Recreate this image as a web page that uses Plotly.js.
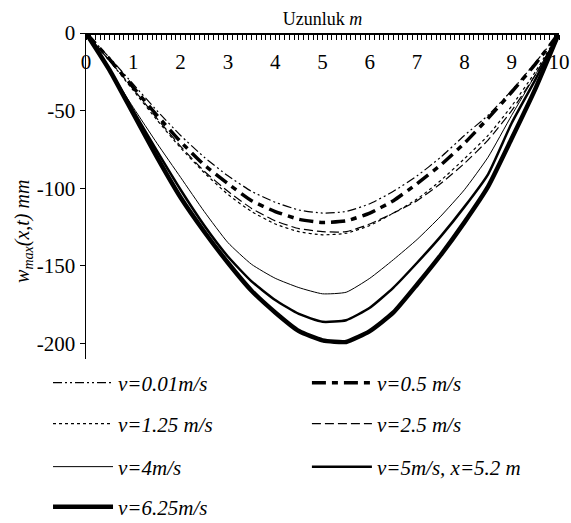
<!DOCTYPE html>
<html>
<head>
<meta charset="utf-8">
<script src="https://cdn.plot.ly/plotly-3.0.1.min.js"></script>
<style>html,body{margin:0;padding:0;background:#fff;}#chart{width:571px;height:523px;}</style>
</head>
<body>
<div id="chart"></div>
<script>
// positions along the beam (m)
var xPos = [0, 0.5, 1, 1.5, 2, 2.5, 3, 3.5, 4, 4.5, 5, 5.5, 6, 6.5, 7, 7.5, 8, 8.5, 9, 9.5, 10];

// maximum deflection w_max (mm) for each speed
var w_v001 = [0, -16, -33, -50, -66, -80, -92, -102, -109, -114, -116, -115, -110, -102, -92, -80, -66, -53, -37, -19, 0];
var w_v05  = [0, -17, -35, -53, -70, -85, -97, -108, -115, -120, -122, -121, -116, -108, -97, -85, -71, -55, -38, -20, 0];
var w_v125 = [0, -18, -37, -56, -74, -90, -104, -115, -123, -128, -130, -129, -124, -116, -107, -95, -81, -66, -47, -25, 0];
var w_v25  = [0, -18, -36, -55, -73, -89, -102, -113, -121, -126, -128, -128, -123, -116, -108, -97, -84, -69, -50, -27, 0];
var w_v4   = [0, -24, -48, -71, -93, -115, -135, -149, -158, -164, -168, -167, -158, -146, -133, -118, -101, -80, -53, -27, 0];
var w_v5   = [0, -24, -50, -76, -101, -124, -144, -160, -172, -181, -186, -185, -177, -164, -148, -131, -112, -91, -58, -30, 0];
var w_v625 = [0, -24, -52, -80, -106, -128, -148, -166, -180, -192, -198, -199, -192, -180, -162, -143, -122, -99, -68, -36, 0];

var seriesNames = ["v=0.01m/s", "v=0.5 m/s", "v=1.25 m/s", "v=2.5 m/s", "v=4m/s", "v=5m/s, x=5.2 m", "v=6.25m/s"];
var xTickVals = [0, 1, 2, 3, 4, 5, 6, 7, 8, 9, 10];
var yTickVals = [-200, -150, -100, -50, 0];
var yTickText = ["-200", "-150", "-100", "-50", "0"];
var yTitleText = "<i>w<sub>max</sub>(x,t) mm</i>";

var seriesData = [w_v001, w_v05, w_v125, w_v25, w_v4, w_v5, w_v625];
var styles = [
  {width: 1.2, dash: "9px,3px,2px,3px,2px,3px"},
  {width: 3.5, dash: "14px,6px,6px,6px"},
  {width: 1.2, dash: "3px,3px"},
  {width: 1.2, dash: "9px,4px"},
  {width: 1, dash: "solid"},
  {width: 2.5, dash: "solid"},
  {width: 4.5, dash: "solid"}
];
var legendIds = ["legend", "legend2", "legend3", "legend4", "legend5", "legend6", "legend7"];

var traces = seriesData.map(function(w, i) {
  return {
    x: xPos, y: w, type: "scatter", mode: "lines",
    name: "<i>" + seriesNames[i] + "</i>",
    line: {color: "#000", width: styles[i].width, dash: styles[i].dash, shape: "spline", smoothing: 0.5},
    legend: legendIds[i]
  };
});

var serif = "'Liberation Serif', 'Times New Roman', serif";
// legend placement (container fractions): column left edges / row centres
var colX = [0.0841, 0.5375];
var rowY = [0.2677, 0.1893, 0.1071, 0.0306];
function legendCfg(col, row) {
  return {
    orientation: "v", xref: "container", yref: "container",
    x: colX[col], xanchor: "left", y: rowY[row], yanchor: "middle",
    itemwidth: 60,
    font: {family: serif, size: 21, color: "#000"},
    bgcolor: "rgba(0,0,0,0)", borderwidth: 0
  };
}

var layout = {
  width: 571, height: 523,
  margin: {l: 86, r: 12, t: 33, b: 164, pad: 0, autoexpand: false},
  paper_bgcolor: "#fff", plot_bgcolor: "#fff",
  font: {family: serif, color: "#000"},
  showlegend: true,
  title: {
    text: "Uzunluk <i>m</i>", font: {family: serif, size: 18, color: "#000"},
    xref: "paper", x: 0.5, xanchor: "center", yref: "container", y: 0.965, yanchor: "middle"
  },
  xaxis: {
    range: [0, 10], side: "bottom", anchor: "free", position: 1, automargin: false,
    showline: true, linecolor: "#000", linewidth: 1.5,
    showgrid: false, zeroline: false, tickvals: xTickVals,
    ticks: "outside", ticklen: 5, tickwidth: 1, tickcolor: "#000",
    minor: {dtick: 0.1, ticks: "outside", ticklen: 5, tickwidth: 1, tickcolor: "#000", showgrid: false},
    ticklabelstandoff: 4,
    tickfont: {family: serif, size: 21, color: "#000"},
    fixedrange: true
  },
  yaxis: {
    range: [-210, 0], automargin: false, showline: true, linecolor: "#000", linewidth: 1.5,
    showgrid: false, zeroline: false, tickvals: yTickVals, ticktext: yTickText,
    ticks: "outside", ticklen: 5, tickwidth: 1, tickcolor: "#000",
    tickfont: {family: serif, size: 21, color: "#000"},
    fixedrange: true
  },
  annotations: [{
    text: yTitleText, textangle: -90, showarrow: false,
    xref: "paper", yref: "paper", x: -0.131, y: 0.39, xanchor: "center", yanchor: "middle",
    font: {family: serif, size: 20, color: "#000"}
  }],
  legend: legendCfg(0, 0),
  legend2: legendCfg(1, 0),
  legend3: legendCfg(0, 1),
  legend4: legendCfg(1, 1),
  legend5: legendCfg(0, 2),
  legend6: legendCfg(1, 2),
  legend7: legendCfg(0, 3)
};

Plotly.newPlot("chart", traces, layout, {staticPlot: true, displayModeBar: false});
</script>
</body>
</html>
